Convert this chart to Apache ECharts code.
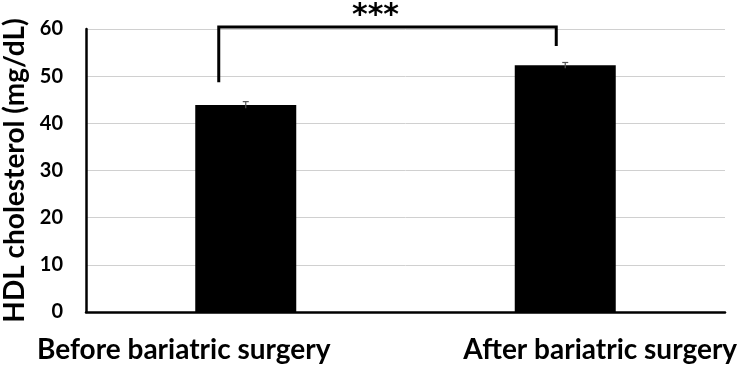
<!DOCTYPE html>
<html>
<head>
<meta charset="utf-8">
<script src="https://cdn.jsdelivr.net/npm/echarts@6/dist/echarts.min.js"></script>
<style>
  html, body { margin: 0; padding: 0; background: #fff; }
  #chart { width: 750px; height: 375px; }
</style>
</head>
<body>
<div id="chart"></div>
<script>
const categories = ['Before bariatric surgery', 'After bariatric surgery'];
const hdlMeans = [43.9, 52.3];
const hdlErrors = [0.7, 0.6];
const yTicks = [0, 10, 20, 30, 40, 50, 60];
// bracket: left leg bottom, top line, right leg bottom
const bracketLevels = [48.7, 60.4, 56.4];
const sigLabel = '***';

var chart = echarts.init(document.getElementById('chart'));
const fontFam = 'Lato, "Open Sans", sans-serif';

const option = {
  animation: false,
  grid: { left: 86, right: 25, top: 29, bottom: 63, outerBoundsMode: 'none' },
  xAxis: {
    type: 'category',
    data: categories,
    axisLine: { lineStyle: { color: '#000', width: 2.5 } },
    axisTick: { show: false },
    axisLabel: {
      margin: 24,
      formatter: (v, i) => (i === 0 ? '{a|' : '{b|') + v + '}',
      rich: {
        a: { fontFamily: fontFam, fontWeight: 'bold', fontSize: 28, color: '#000', padding: [0, 124, 0, 0] },
        b: { fontFamily: fontFam, fontWeight: 'bold', fontSize: 28, color: '#000', padding: [0, 0, 0, 70] }
      }
    }
  },
  yAxis: {
    type: 'value',
    min: yTicks[0],
    max: yTicks[yTicks.length - 1],
    interval: 10,
    name: 'HDL cholesterol (mg/dL)',
    nameLocation: 'middle',
    nameGap: 53,
    nameTextStyle: { fontFamily: fontFam, fontWeight: 'bold', fontSize: 28, color: '#000' },
    axisLine: { show: true, lineStyle: { color: '#000', width: 2.5 } },
    axisTick: { show: false },
    axisLabel: { margin: 23, fontFamily: fontFam, fontWeight: 'bold', fontSize: 20, color: '#000' },
    splitLine: { lineStyle: { color: '#d0d0d0', width: 1 } }
  },
  series: [
    {
      type: 'bar',
      data: hdlMeans,
      barWidth: 101,
      itemStyle: { color: '#000' }
    },
    {
      type: 'custom',
      data: hdlMeans.map((m, i) => [i, m - hdlErrors[i], m + hdlErrors[i]]),
      renderItem: function (params, api) {
        const lo = api.coord([api.value(0), api.value(1)]);
        const hi = api.coord([api.value(0), api.value(2)]);
        const st = { stroke: '#555', lineWidth: 1.2 };
        return {
          type: 'group',
          children: [
            { type: 'line', shape: { x1: hi[0], y1: hi[1], x2: lo[0], y2: lo[1] }, style: st },
            { type: 'line', shape: { x1: hi[0] - 3, y1: hi[1], x2: hi[0] + 3, y2: hi[1] }, style: st }
          ]
        };
      },
      z: 5
    },
    {
      type: 'custom',
      clip: false,
      data: [[0, 1]],
      renderItem: function (params, api) {
        const l = api.coord([api.value(0), bracketLevels[0]]);
        const t = api.coord([api.value(0), bracketLevels[1]]);
        const r = api.coord([api.value(1), bracketLevels[2]]);
        const lx = l[0] - 27, rx = r[0] - 9;
        return {
          type: 'group',
          children: [
            {
              type: 'polyline',
              shape: { points: [[lx, l[1]], [lx, t[1]], [rx, t[1]], [rx, r[1]]] },
              style: { stroke: '#000', lineWidth: 3, fill: null }
            },
            {
              type: 'text',
              style: {
                text: sigLabel, x: (lx + rx) / 2 - 12, y: t[1] - 26,
                align: 'center', verticalAlign: 'top',
                font: 'bold 30px "DejaVu Sans", sans-serif', fill: '#000'
              }
            }
          ]
        };
      },
      z: 6
    }
  ]
};

chart.setOption(option);
</script>
</body>
</html>
